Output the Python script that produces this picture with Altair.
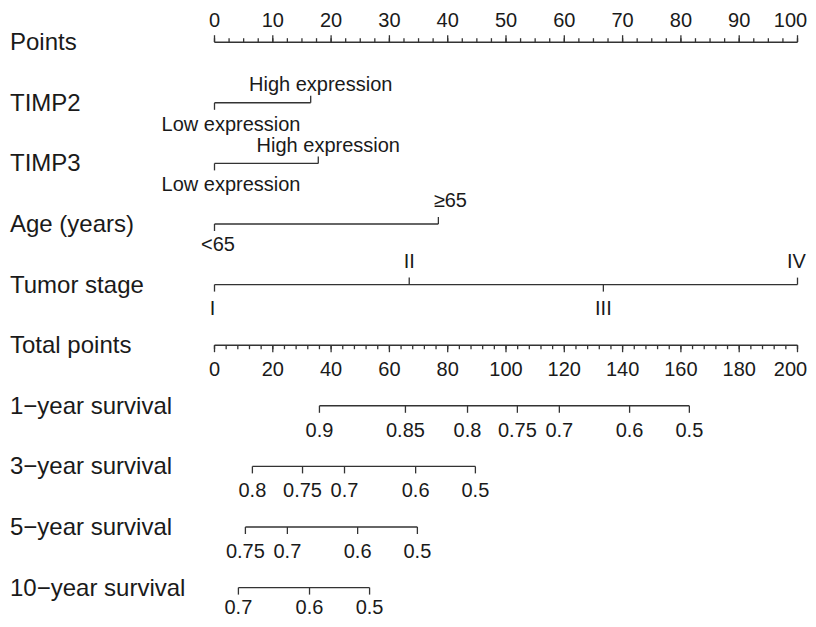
import altair as alt
import pandas as pd

# ---------------- data ----------------
row_names = ["Points", "TIMP2", "TIMP3", "Age (years)", "Tumor stage", "Total points",
             "1\u2212year survival", "3\u2212year survival", "5\u2212year survival", "10\u2212year survival"]

points_major = list(range(0, 101, 10))
points_minor = [i * 2.5 for i in range(0, 41)]
total_major = list(range(0, 201, 20))
total_minor = list(range(0, 201, 4))

timp2_levels = ["Low expression", "High expression"]
timp2_points = [0, 16.5]
timp3_levels = ["Low expression", "High expression"]
timp3_points = [0, 17.8]
age_levels = ["<65", "\u226565"]
age_points = [0, 38.4]
stage_levels = ["I", "II", "III", "IV"]
stage_points = [0, 33.4, 66.7, 100]

surv1_probs = ["0.9", "0.85", "0.8", "0.75", "0.7", "0.6", "0.5"]
surv1_total = [36.0, 65.5, 86.8, 103.9, 118.3, 142.4, 162.9]
surv3_probs = ["0.8", "0.75", "0.7", "0.6", "0.5"]
surv3_total = [13.0, 30.2, 44.6, 69.0, 89.5]
surv5_probs = ["0.75", "0.7", "0.6", "0.5"]
surv5_total = [10.6, 25.0, 49.1, 69.6]
surv10_probs = ["0.7", "0.6", "0.5"]
surv10_total = [8.2, 32.6, 53.2]

# ---------------- layout ----------------
W, H = 800, 611
PX_PER_PT = 5.83
X0 = 206.5
xdom = [-X0 / PX_PER_PT, (W - X0) / PX_PER_PT]
ROW0, ROWSTEP = 34.2, 60.6
ydom = [-ROW0 / ROWSTEP, (H - ROW0) / ROWSTEP]

xs = alt.Scale(domain=xdom, nice=False, zero=False)
ys = alt.Scale(domain=ydom, nice=False, zero=False, reverse=True)

FONT = "Liberation Sans"
LINE = "#333333"
TXT = "#1a1a1a"

# ---------------- frames ----------------
lines, ticks, texts = [], [], []

# Points axis (row 0)
lines.append(dict(row=0, start=0, end=100))
for v in points_minor:
    ticks.append(dict(row=0, pos=v, kind="minor", dir="up"))
for v in points_major:
    ticks.append(dict(row=0, pos=v, kind="major", dir="up"))
    texts.append(dict(row=0, pos=v, label=str(v),
                      grp="axis_above_end" if v == points_major[-1] else "axis_above"))

# categorical predictors
cats = [(1, timp2_levels, timp2_points, "expr"),
        (2, timp3_levels, timp3_points, "expr"),
        (3, age_levels, age_points, "age"),
        (4, stage_levels, stage_points, "stage")]
for row, levels, pts, kind in cats:
    lines.append(dict(row=row, start=min(pts), end=max(pts)))
    for i, (lab, p) in enumerate(zip(levels, pts)):
        d = "down" if i % 2 == 0 else "up"
        ticks.append(dict(row=row, pos=p, kind="major", dir=d))
        texts.append(dict(row=row, pos=p, label=lab, grp=f"{kind}_{d}_{i}"))

# Total points axis (row 5)
lines.append(dict(row=5, start=0, end=100))
for v in total_minor:
    ticks.append(dict(row=5, pos=v / 2, kind="minor", dir="down"))
for v in total_major:
    ticks.append(dict(row=5, pos=v / 2, kind="major", dir="down"))
    texts.append(dict(row=5, pos=v / 2, label=str(v),
                      grp="axis_below_end" if v == total_major[-1] else "axis_below"))

# survival scales
survs = [(6, surv1_probs, surv1_total), (7, surv3_probs, surv3_total),
         (8, surv5_probs, surv5_total), (9, surv10_probs, surv10_total)]
for row, probs, tot in survs:
    lines.append(dict(row=row, start=min(tot) / 2, end=max(tot) / 2))
    for lab, t in zip(probs, tot):
        ticks.append(dict(row=row, pos=t / 2, kind="major", dir="down"))
        texts.append(dict(row=row, pos=t / 2, label=lab,
                          grp="surv_last" if row == 9 else "surv"))

lines_df = pd.DataFrame(lines)
ticks_df = pd.DataFrame(ticks)
texts_df = pd.DataFrame(texts)
names_df = pd.DataFrame(dict(row=list(range(len(row_names))), name=row_names))

Xp = alt.X("pos:Q", scale=xs, axis=None)
Yr = alt.Y("row:Q", scale=ys, axis=None)

line_layer = alt.Chart(lines_df).mark_rule(color=LINE, strokeWidth=1.4).encode(
    x=alt.X("start:Q", scale=xs, axis=None), x2="end:Q", y=Yr)

tick_layers = []
for kind, length in [("major", 7), ("minor", 4)]:
    for d, sign in [("up", -1), ("down", 1)]:
        sub = ticks_df[(ticks_df.kind == kind) & (ticks_df.dir == d)]
        if len(sub) == 0:
            continue
        tick_layers.append(
            alt.Chart(sub).mark_rule(color=LINE, strokeWidth=1.3, y2Offset=sign * length)
            .encode(x=Xp, y=Yr, y2="row:Q"))

# text groups: dx, dy nudges (pixels)
text_styles = {
    "axis_above": (0, -21),
    "axis_above_end": (-7, -21),
    "axis_below": (0, 25),
    "axis_below_end": (-7, 25),
    "surv": (0, 25),
    "surv_last": (0, 20),
    "expr_down_0": (16.5, 22),
    "expr_up_1": (10, -17.5),
    "age_down_0": (3.5, 20.5),
    "age_up_1": (12, -23),
    "stage_down_0": (-2, 24.5),
    "stage_up_1": (0, -23),
    "stage_down_2": (0, 24.5),
    "stage_up_3": (-1, -23),
}
text_layers = []
for grp, (dx, dy) in text_styles.items():
    sub = texts_df[texts_df.grp == grp]
    if len(sub) == 0:
        continue
    text_layers.append(
        alt.Chart(sub).mark_text(font=FONT, fontSize=20, color=TXT, align="center",
                                 baseline="middle", dx=dx, dy=dy)
        .encode(x=Xp, y=Yr, text="label:N"))

name_layer = alt.Chart(names_df).mark_text(
    font=FONT, fontSize=24, color=TXT, align="left", baseline="middle", dy=1
).encode(x=alt.value(2), y=Yr, text="name:N")

chart = alt.layer(line_layer, *tick_layers, *text_layers, name_layer).properties(
    width=W, height=H, padding=0, autosize=alt.AutoSizeParams(type="none"),
    background="white"
).configure_view(stroke=None)

chart.save("out.html", embed_options={"renderer": "svg", "actions": False})
